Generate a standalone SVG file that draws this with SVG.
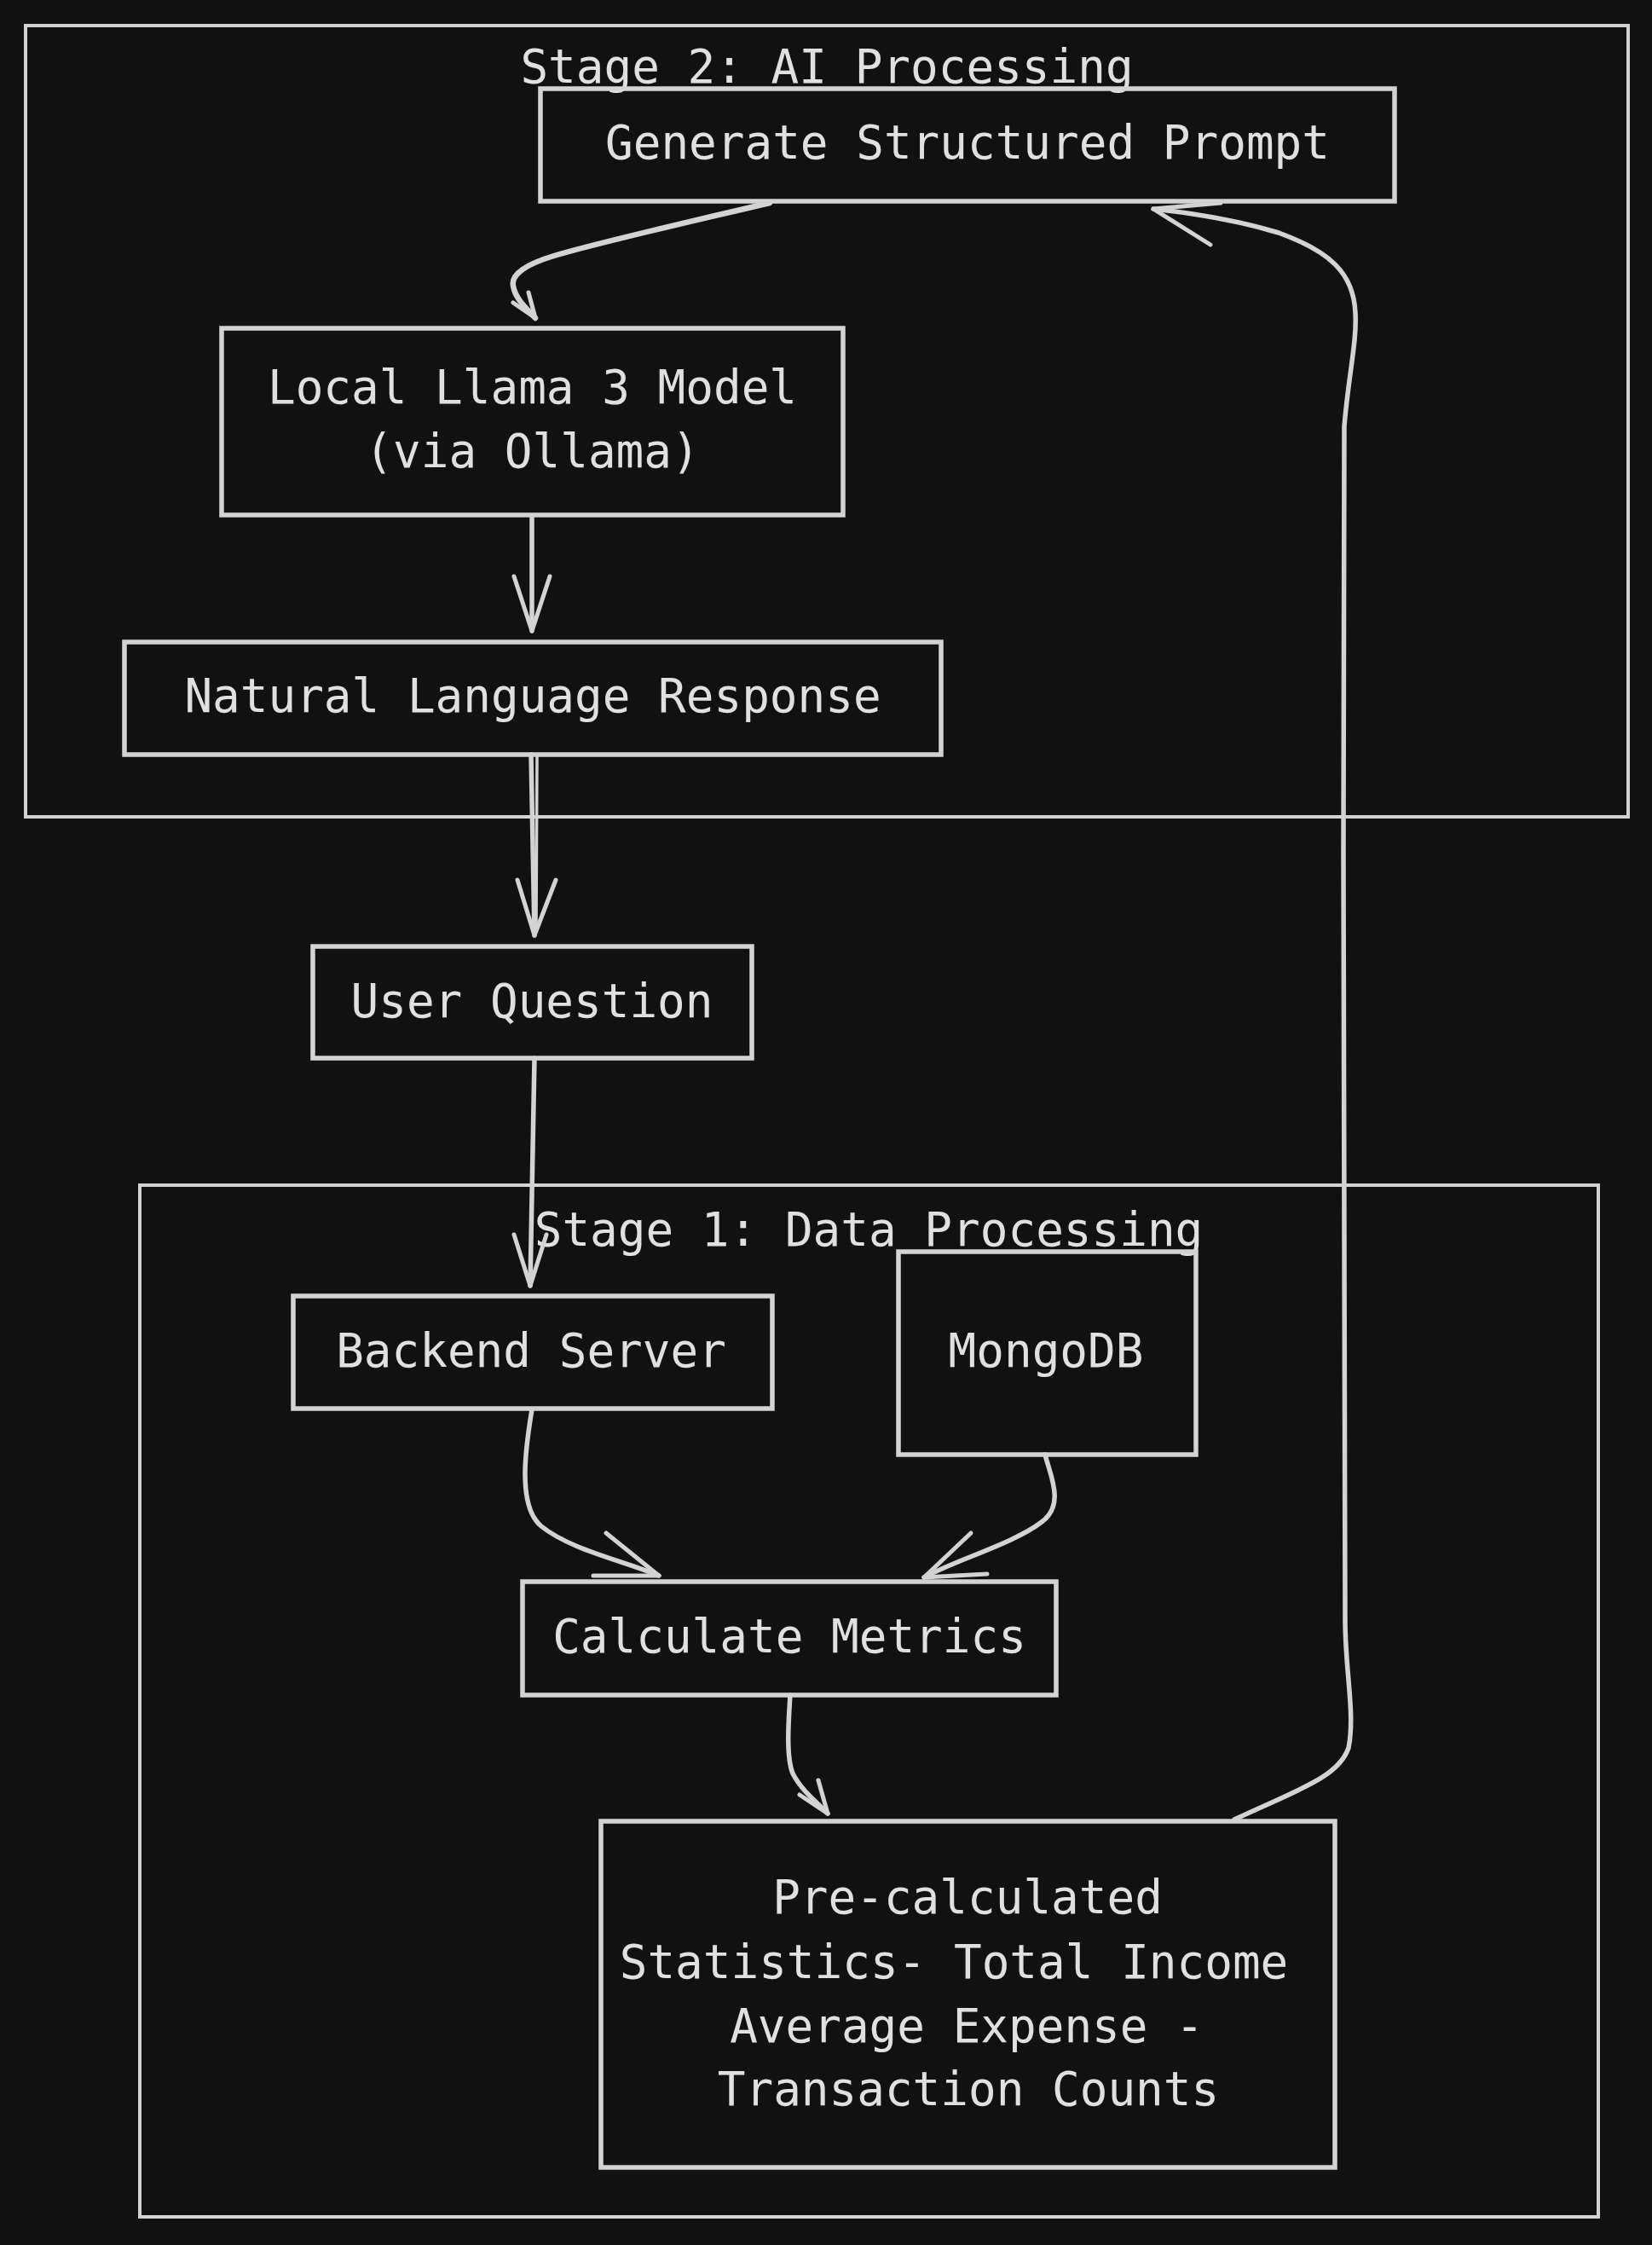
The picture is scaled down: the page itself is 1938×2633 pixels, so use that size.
<svg xmlns="http://www.w3.org/2000/svg" width="1938" height="2633" viewBox="0 0 1938 2633">
<style>
.bg{fill:#111111}
.cluster{fill:none;stroke:#d3d3d3;stroke-width:4}
.node{fill:none;stroke:#d3d3d3;stroke-width:5.5}
.edge{fill:none;stroke:#d3d3d3;stroke-width:5.5;stroke-linecap:round;stroke-linejoin:round}
.head{fill:none;stroke:#d3d3d3;stroke-width:5;stroke-linecap:round;stroke-linejoin:round}
text{font-family:"DejaVu Sans Mono","Liberation Mono",monospace;font-size:54.3px;fill:#e0e0e0;text-anchor:middle}
</style>
<rect class="bg" x="0" y="0" width="1938" height="2633"/>

<g id="stage2">
<rect class="cluster" x="30" y="30" width="1880" height="928"/>
<text x="970" y="97">Stage 2: AI Processing</text>
</g>
<g id="stage1">
<rect class="cluster" x="164" y="1390" width="1711" height="1210"/>
<text x="1019" y="1461">Stage 1: Data Processing</text>
</g>

<g id="connectors">
<path class="edge" d="M 903 238 C 800 262, 700 285, 650 300 C 610 312, 600 325, 602 335 C 604 350, 618 362, 628 373" style="stroke-width:6.5"/>
<path class="head" d="M 602 355 L 628 373 L 620 343"/>

<path class="edge" d="M 624 605 L 624 740"/>
<path class="head" d="M 603 676 L 624 740 L 645 676"/>

<path class="edge" d="M 623 885 L 627 1097"/>
<path class="edge" d="M 630 885 L 629 1090" style="stroke-width:3.5"/>
<path class="head" d="M 607 1032 L 627 1097 L 652 1032"/>

<path class="edge" d="M 627 1241 L 622 1508"/>
<path class="head" d="M 603 1448 L 622 1508 L 641 1448"/>

<path class="edge" d="M 624 1653 C 618 1690, 605 1765, 635 1790 C 670 1818, 730 1830, 773 1848"/>
<path class="head" d="M 711 1798 L 773 1848 L 696 1848"/>

<path class="edge" d="M 1226 1706 C 1232 1730, 1250 1765, 1222 1785 C 1190 1810, 1120 1830, 1084 1850"/>
<path class="head" d="M 1139 1798 L 1084 1850 L 1158 1846"/>

<path class="edge" d="M 927 1988 C 925 2020, 922 2060, 930 2080 C 940 2100, 960 2115, 971 2127"/>
<path class="head" d="M 960 2088 L 971 2127 L 938 2105"/>

<path class="edge" d="M 1448 2134 C 1520 2100, 1570 2085, 1582 2050 C 1590 2010, 1578 1960, 1578 1900 L 1576 1000 L 1577 500 C 1582 440, 1592 400, 1590 367 C 1588 320, 1560 295, 1500 273 C 1450 258, 1400 250, 1353 245"/>
<path class="head" d="M 1420 287 L 1353 245 L 1432 238"/>
</g>

<g id="generate-prompt">
<rect class="node" x="634" y="104" width="1002" height="132"/>
<text x="1135" y="186">Generate Structured Prompt</text>
</g>
<g id="llama-model">
<rect class="node" x="260" y="385" width="729" height="219"/>
<text x="624.5" y="473">Local Llama 3 Model</text>
<text x="624.5" y="548">(via Ollama)</text>
</g>
<g id="nl-response">
<rect class="node" x="146" y="753" width="958" height="132"/>
<text x="625" y="835">Natural Language Response</text>
</g>
<g id="user-question">
<rect class="node" x="367" y="1110" width="515" height="131"/>
<text x="624" y="1193">User Question</text>
</g>
<g id="backend-server">
<rect class="node" x="344" y="1520" width="562" height="132"/>
<text x="623" y="1603">Backend Server</text>
</g>
<g id="mongodb">
<rect class="node" x="1054" y="1468" width="349" height="238"/>
<text x="1227" y="1603">MongoDB</text>
</g>
<g id="calculate-metrics">
<rect class="node" x="613" y="1855" width="626" height="133"/>
<text x="926" y="1938">Calculate Metrics</text>
</g>
<g id="precalc-stats">
<rect class="node" x="705" y="2136" width="861" height="406"/>
<text x="1135" y="2244">Pre-calculated</text>
<text x="1119" y="2320">Statistics- Total Income</text>
<text x="1134" y="2395">Average Expense -</text>
<text x="1136" y="2469">Transaction Counts</text>
</g>
</svg>
